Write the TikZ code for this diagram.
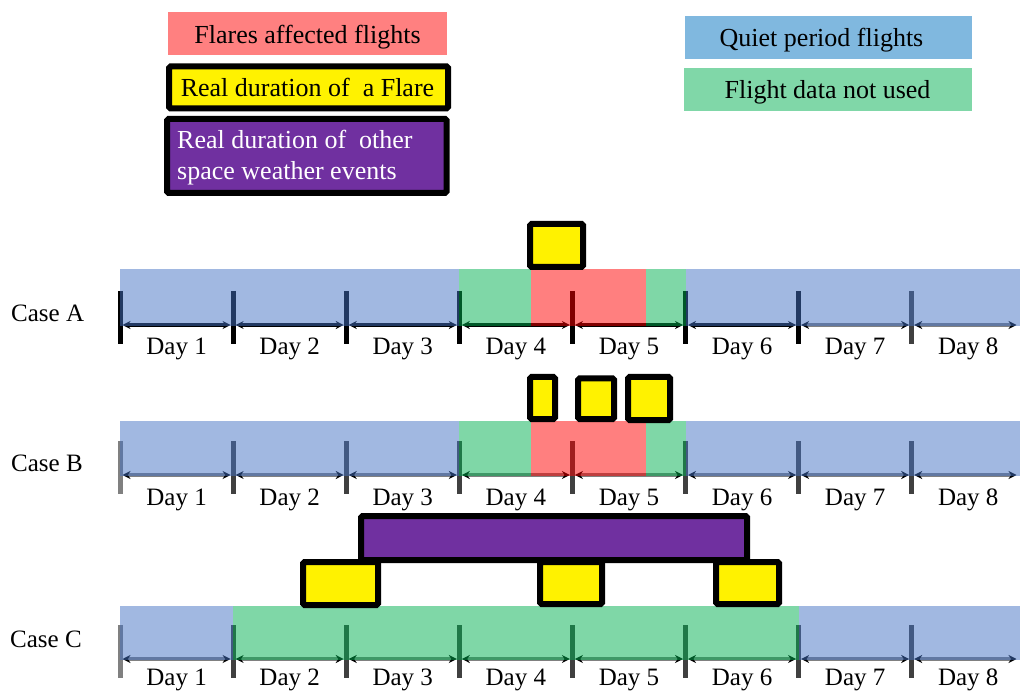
\documentclass[tikz,border=0pt]{standalone}
\usepackage{fontspec}
\setmainfont{Liberation Serif}
\usetikzlibrary{arrows.meta}
\definecolor{qblue}{HTML}{4472C4}
\definecolor{lblue}{HTML}{0070C0}
\definecolor{ngreen}{HTML}{00B050}
\definecolor{fpurple}{HTML}{7030A0}
\definecolor{tdark}{HTML}{404040}
\definecolor{tlight}{HTML}{808080}
\begin{document}
\begin{tikzpicture}[x=1pt,y=-1pt,
  lab/.style={font=\fontsize{25}{30}\selectfont, inner sep=0pt, anchor=base},
  leg/.style={font=\fontsize{26}{31}\selectfont, inner sep=0pt, anchor=base},
  quiet/.style={fill=qblue, fill opacity=0.5},
  unused/.style={fill=ngreen, fill opacity=0.5},
  affected/.style={fill=red, fill opacity=0.5},
  flarebox/.style={fill=yellow, draw=black, line width=6pt, rounded corners=1.5pt},
  eventbox/.style={fill=fpurple, draw=black, line width=6pt, rounded corners=1.5pt},
  daytick/.style={line width=5pt},
  dayarrow/.style={line width=3.5pt,
    {Stealth[length=8pt,width=8pt,color=black]}-{Stealth[length=8pt,width=8pt,color=black]},
    shorten <=2.5pt, shorten >=2.5pt},
]
\useasboundingbox (0,0) rectangle (1020,692);

% ---------------- legend ----------------
\fill[red!50] (167.5,12.5) rectangle (447,55);
\node[leg] (tflare) at (307.5,43.3) {Flares affected flights};

\draw[flarebox] (169,66.5) rectangle (448,108.5);
\node[leg] (tyellow) at (307.5,96.7) {Real duration of\ \ a Flare};

\draw[eventbox] (167,119) rectangle (446.5,193);
\node[leg, anchor=base west, text=white] (tev1) at (177,148.8) {Real duration of\ \ other};
\node[leg, anchor=base west, text=white] (tev2) at (177,179.8) {space weather events};

\fill[lblue!50] (685,16) rectangle (972,59.3);
\node[leg] (tquiet) at (821.5,46.7) {Quiet period flights};

\fill[ngreen!50] (684,68) rectangle (972,111.5);
\node[leg] (tunused) at (827.5,99) {Flight data not used};

% ---------------- axes ----------------
\foreach \r/\y in {A/325,B/475,C/659}{
  \foreach \i in {1,...,8}{
    \coordinate (\r\i) at ({120+113.1*(\i-1)},\y);
  }
  \coordinate (\r9) at (1019,\y);
}

% Case A axis
\foreach \i/\j/\c in {1/2/black,2/3/black,3/4/black,4/5/black,5/6/black,6/7/black,7/8/tlight,8/9/tlight}{
  \draw[dayarrow, draw=\c] (A\i) -- (A\j);
}
\foreach \i/\c in {1/black,2/black,3/black,4/black,5/black,6/black,7/black,8/tdark}{
  \draw[daytick, draw=\c] ([yshift=34pt]A\i) -- ([yshift=-19pt]A\i);
}
% Case B and C axes
\foreach \r in {B,C}{
  \foreach \i [evaluate=\i as \j using int(\i+1)] in {1,...,8}{
    \draw[dayarrow, draw=tlight] (\r\i) -- (\r\j);
  }
  \draw[daytick, draw=tlight] ([yshift=34pt]\r1) -- ([yshift=-19pt]\r1);
  \foreach \i in {2,...,8}{
    \draw[daytick, draw=tdark] ([yshift=34pt]\r\i) -- ([yshift=-19pt]\r\i);
  }
}

% ---------------- bars ----------------
% Case A
\fill[quiet] (120,269) rectangle (233.1,326);
\fill[quiet] (233.1,269) rectangle (346.2,326);
\fill[quiet] (346.2,269) rectangle (459.3,326);
\fill[unused] (459.3,269) rectangle (530.5,326);
\fill[affected] (530.5,269) rectangle (645.5,326);
\fill[unused] (645.5,269) rectangle (685.5,326);
\fill[quiet] (685.5,269) rectangle (798.6,326);
\fill[quiet] (798.6,269) rectangle (911.7,326);
\fill[quiet] (911.7,269) rectangle (1020,326);
% Case B
\fill[quiet] (120,421) rectangle (233.1,476);
\fill[quiet] (233.1,421) rectangle (346.2,476);
\fill[quiet] (346.2,421) rectangle (459.3,476);
\fill[unused] (459.3,421) rectangle (530.5,476);
\fill[affected] (530.5,421) rectangle (645.5,476);
\fill[unused] (645.5,421) rectangle (685.5,476);
\fill[quiet] (685.5,421) rectangle (798.6,476);
\fill[quiet] (798.6,421) rectangle (911.7,476);
\fill[quiet] (911.7,421) rectangle (1020,476);
% Case C
\fill[quiet] (120,606) rectangle (233.1,660);
\fill[unused] (233.1,606) rectangle (346.2,660);
\fill[unused] (346.2,606) rectangle (459.3,660);
\fill[unused] (459.3,606) rectangle (572.4,660);
\fill[unused] (572.4,606) rectangle (685.5,660);
\fill[unused] (685.5,606) rectangle (798.6,660);
\fill[quiet] (798.6,606) rectangle (911.7,660);
\fill[quiet] (911.7,606) rectangle (1020,660);

% ---------------- events ----------------
\draw[flarebox] (530,224) rectangle (583,267);

\draw[flarebox] (530,377) rectangle (555,419);
\draw[flarebox] (578,378.5) rectangle (614,419);
\draw[flarebox] (628,377) rectangle (670,420);

\draw[eventbox] (361,516) rectangle (747,560);
\draw[flarebox] (303,562) rectangle (378,605);
\draw[flarebox] (540,562) rectangle (602,604);
\draw[flarebox] (716,562) rectangle (779,604);

% ---------------- labels ----------------
\node[lab, anchor=base west] (caseA) at (11,322) {Case A};
\node[lab, anchor=base west] (caseB) at (11,471) {Case B};
\node[lab, anchor=base west] (caseC) at (10,647) {Case C};
\foreach \r/\y in {A/355,B/505,C/685.5}{
  \foreach \i in {1,...,8}{
    \node[lab] (\r d\i) at ({120+113.1*(\i-0.5)},\y) {Day \i};
  }
}
\end{tikzpicture}
\end{document}
